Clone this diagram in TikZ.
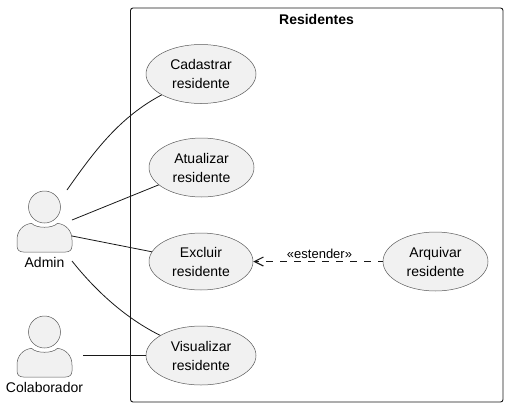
\documentclass[tikz,border=0pt]{standalone}
\usepackage{fontspec}
\setmainfont{Liberation Sans}
\usepackage{tikz}
\usetikzlibrary{shapes.geometric, arrows.meta}
\definecolor{shapefill}{HTML}{F1F1F1}
\definecolor{inkline}{HTML}{181818}
\definecolor{thinline}{HTML}{5A5A5A}
\tikzset{
  usecase/.style={ellipse, draw=thinline, line width=0.5pt, fill=shapefill, inner sep=0pt,
    align=center, font=\fontsize{14}{19}\selectfont},
  actorlabel/.style={inner sep=0pt, font=\fontsize{14}{17}\selectfont},
  link/.style={draw=inkline, line width=0.8pt},
  pics/actorfig/.style={code={
    \filldraw[draw=thinline, line width=0.5pt, fill=shapefill] (0,0) circle (16);
    \filldraw[draw=thinline, line width=0.5pt, fill=shapefill]
      (-13,16.3) .. controls (-8,21.6) and (8,21.6) .. (13,16.3)
      .. controls (22,17.5) and (27.5,24) .. (27.5,33) -- (27.5,39)
      .. controls (27.5,43) and (25,45) .. (21,45) -- (-21,45)
      .. controls (-25,45) and (-27.5,43) .. (-27.5,39) -- (-27.5,33)
      .. controls (-27.5,24) and (-22,17.5) .. (-13,16.3) -- cycle;
  }}
}
\begin{document}
\begin{tikzpicture}[x=1pt, y=-1pt]
\useasboundingbox (0,0) rectangle (508,407);
\draw[inkline, line width=0.9pt, rounded corners=2.5pt] (130.5,8) rectangle (503,402);
\node[font=\fontsize{14}{17}\selectfont\bfseries, inner sep=0pt] (residentes) at (316.5,19.5) {Residentes};

\node[usecase, minimum width=110pt, minimum height=59pt] (cadastrar) at (201,74) {Cadastrar\\residente};
\node[usecase, minimum width=105pt, minimum height=59pt] (atualizar) at (201.5,167.5) {Atualizar\\residente};
\node[usecase, minimum width=104pt, minimum height=57pt] (excluir) at (201,261.5) {Excluir\\residente};
\node[usecase, minimum width=105pt, minimum height=59pt] (arquivar) at (435.5,261.5) {Arquivar\\residente};
\node[usecase, minimum width=110pt, minimum height=59pt] (visualizar) at (201,355.5) {Visualizar\\residente};

\pic at (44.5,207) {actorfig};
\pic at (44.5,332) {actorfig};
\node[actorlabel] (admin) at (44.5,262.5) {Admin};
\node[actorlabel] (colaborador) at (44.5,387.5) {Colaborador};

\coordinate (admina) at (67,190);
\coordinate (adminb) at (72,220);
\coordinate (adminc) at (72,236);
\coordinate (admind) at (72,261);
\coordinate (colaboradora) at (83,355.5);

\draw[link] (admina) .. controls (95,150) and (120,117) .. (cadastrar);
\draw[link] (adminb) -- (atualizar);
\draw[link] (adminc) -- (excluir);
\draw[link] (admind) .. controls (95,290) and (125,318) .. (visualizar);
\draw[link] (colaboradora) -- (visualizar);

\draw[link, dash pattern=on 7pt off 7pt, dash phase=3pt, {Straight Barb[length=9pt, width=9pt, line width=1.1pt]}-] (excluir) -- (arquivar);
\node[inner sep=0pt, font=\fontsize{13}{15}\selectfont] (estender) at (319.5,253.5) {«estender»};
\end{tikzpicture}
\end{document}
